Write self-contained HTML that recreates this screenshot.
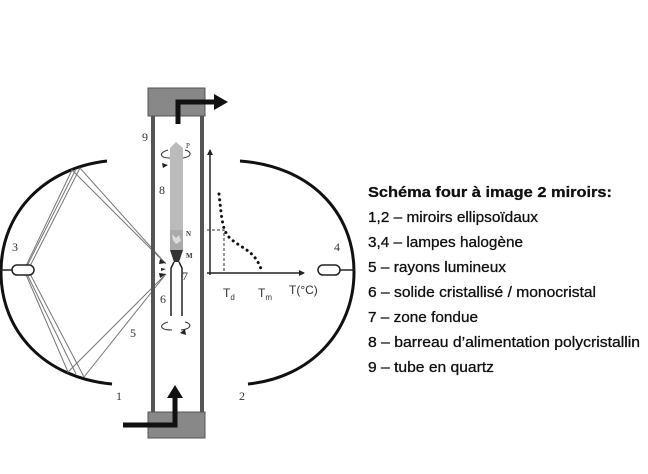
<!DOCTYPE html>
<html><head><meta charset="utf-8"><style>
html,body{margin:0;padding:0;background:#fff;}
svg{display:block;}
</style></head><body>
<svg width="648" height="474" viewBox="0 0 648 474" xmlns="http://www.w3.org/2000/svg">
<defs>
<marker id="as" markerWidth="6" markerHeight="6" refX="5" refY="3" orient="auto" markerUnits="userSpaceOnUse"><path d="M0,0 L6,3 L0,6 z" fill="#222"/></marker>
</defs>
<!-- mirrors -->
<path d="M107,161 C45,168 1,212 1,272 C1,332 45,378 112,384" fill="none" stroke="#111" stroke-width="3"/>
<path d="M240,161 C310,166 354,212 354,272 C354,332 310,378 248,384" fill="none" stroke="#111" stroke-width="3"/>
<!-- rays -->
<g stroke="#777" stroke-width="1" fill="none">
<path d="M24,270 L72,170 L164,262"/><path d="M28,270 L80,168 L166,264"/>
<path d="M24,270 L68,372 L164,276"/><path d="M28,270 L84,377 L166,274"/>
<path d="M26,268 L76,169"/><path d="M26,272 L76,374"/>
</g>
<g fill="#222"><path d="M160,259 l6,4 l-7,1z"/><path d="M160,278 l6,-4 l-7,-1z"/><path d="M161,268 l5,1 l-5,2z"/></g>
<!-- lamps -->
<g stroke="#222" stroke-width="1.5" fill="#fff">
<line x1="0" y1="270" x2="12" y2="270"/><rect x="12" y="265" width="22" height="10" rx="5"/>
<line x1="340" y1="270" x2="355" y2="270"/><rect x="318" y="265" width="22" height="10" rx="5"/>
</g>
<!-- tube -->
<rect x="148" y="88" width="57" height="28" fill="#888" stroke="#555"/>
<rect x="148" y="412" width="57" height="26" fill="#888" stroke="#555"/>
<rect x="151" y="116" width="4" height="296" fill="#555"/>
<rect x="200" y="116" width="4" height="296" fill="#555"/>
<!-- flow arrows -->
<path d="M178,124 V102 H216" fill="none" stroke="#111" stroke-width="5"/>
<path d="M214,94 L228,102 L214,110z" fill="#111"/>
<path d="M123,425 H175 V396" fill="none" stroke="#111" stroke-width="5"/>
<path d="M167,398 L175,385 L183,398z" fill="#111"/>
<!-- rod -->
<path d="M170,148 L176,142 L183,148 L183,232 L170,232z" fill="#bbb"/>
<rect x="170" y="230" width="13" height="20" fill="#aaa"/>
<path d="M172,234 l4,4 l3,-3 l2,6 l-5,3 l-3,-4z" fill="#ddd"/>
<path d="M170,250 L183,250 L179,262 L174,262z" fill="#333"/>
<path d="M174,262 L171,268 L171,316 M179,262 L182,268 L182,316" fill="none" stroke="#222" stroke-width="1.5"/>
<!-- rotation marks -->
<path d="M168,150 c-10,3 -8,8 2,8" fill="none" stroke="#333" stroke-width="1"/>
<path d="M185,150 c8,2 6,7 -2,8" fill="none" stroke="#333" stroke-width="1"/>
<path d="M162,163 l6,2 l-5,3z" fill="#222"/>
<path d="M168,322 c-10,3 -8,8 4,8 M185,322 c8,2 6,7 -4,8" fill="none" stroke="#333" stroke-width="1"/>
<path d="M180,333 l5,-4 l1,6z" fill="#222"/>
<!-- graph -->
<line x1="210" y1="275" x2="210" y2="150" stroke="#222" stroke-width="1.5" marker-end="url(#as)"/>
<line x1="207" y1="273" x2="304" y2="273" stroke="#222" stroke-width="1.5" marker-end="url(#as)"/>
<path d="M207,230 H224 V273" fill="none" stroke="#333" stroke-width="1" stroke-dasharray="3,2"/>
<path d="M219,194 C222,220 222,232 232,240 C245,250 256,252 262,272" fill="none" stroke="#111" stroke-width="3" stroke-dasharray="0.1,5.5" stroke-linecap="round"/>
<g font-family="Liberation Sans, sans-serif" fill="#333">
<text x="223" y="297" font-size="12">T<tspan font-size="8" dy="3">d</tspan></text>
<text x="258" y="297" font-size="12">T<tspan font-size="8" dy="3">m</tspan></text>
<text x="289" y="294" font-size="12">T(°C)</text>
</g>
<!-- numbers -->
<g font-family="Liberation Serif, serif" font-size="12" fill="#333">
<text x="12" y="251">3</text><text x="334" y="251">4</text>
<text x="116" y="400">1</text><text x="239" y="400">2</text>
<text x="130" y="337">5</text><text x="160" y="303">6</text>
<text x="182" y="280">7</text><text x="159" y="194">8</text>
<text x="142" y="141">9</text>
<text x="186" y="236" font-size="7" font-weight="bold">N</text>
<text x="186" y="258" font-size="7" font-weight="bold">M</text>
<text x="186" y="148" font-size="7">P</text>
</g>
<!-- legend -->
<g font-family="Liberation Sans, sans-serif" font-size="15" fill="#111" stroke="#111" stroke-width="0.3">
<text x="368" y="197" font-weight="bold" textLength="244" lengthAdjust="spacingAndGlyphs">Schéma four à image 2 miroirs:</text>
<text x="368" y="222" textLength="170" lengthAdjust="spacingAndGlyphs">1,2 – miroirs ellipsoïdaux</text>
<text x="368" y="247" textLength="155" lengthAdjust="spacingAndGlyphs">3,4 – lampes halogène</text>
<text x="368" y="272" textLength="138" lengthAdjust="spacingAndGlyphs">5 – rayons lumineux</text>
<text x="368" y="297" textLength="228" lengthAdjust="spacingAndGlyphs">6 – solide cristallisé / monocristal</text>
<text x="368" y="322" textLength="110" lengthAdjust="spacingAndGlyphs">7 – zone fondue</text>
<text x="368" y="347" textLength="272" lengthAdjust="spacingAndGlyphs">8 – barreau d’alimentation polycristallin</text>
<text x="368" y="372" textLength="126" lengthAdjust="spacingAndGlyphs">9 – tube en quartz</text>
</g>
</svg>
</body></html>
